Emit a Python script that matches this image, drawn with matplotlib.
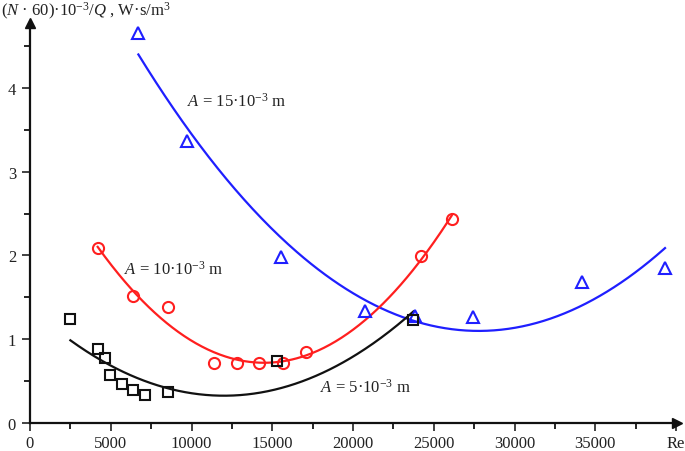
import numpy as np
import matplotlib
matplotlib.use("Agg")
import matplotlib.pyplot as plt
from matplotlib.ticker import MultipleLocator

# ---- data ----
sq_re = [2500, 4230, 4640, 4950, 5680, 6400, 7120, 8560, 15270, 23740]
sq_v = [1.24, 0.88, 0.77, 0.57, 0.46, 0.39, 0.34, 0.37, 0.74, 1.23]

ci_re = [4190, 6400, 8520, 11410, 12840, 14200, 15650, 17090, 24210, 26110]
ci_v = [2.09, 1.51, 1.38, 0.72, 0.72, 0.72, 0.72, 0.85, 1.99, 2.44]

tr_re = [6710, 9700, 15540, 20740, 23840, 27410, 34180, 39320]
tr_v = [4.65, 3.37, 1.98, 1.34, 1.28, 1.26, 1.68, 1.85]

x_ticks = [0, 5000, 10000, 15000, 20000, 25000, 30000, 35000, 40000]
x_labels = ["0", "5000", "10000", "15000", "20000", "25000", "30000", "35000", "Re"]
y_ticks = [0, 1, 2, 3, 4]
y_labels = ["0", "1", "2", "3", "4"]

plt.rcParams["font.family"] = ["Liberation Serif", "DejaVu Serif"]
plt.rcParams["mathtext.fontset"] = "custom"
plt.rcParams["mathtext.rm"] = "Liberation Serif"
plt.rcParams["mathtext.it"] = "Liberation Serif:italic"

W, H = 685, 452
X0, Y0 = 30, 424          # pixel of (0, 0)
XR, YT = 677, 24          # pixel of axes right / top
PX_PER_RE = 0.01615
PX_PER_V = 83.8

fig = plt.figure(figsize=(W / 100, H / 100), dpi=100)
ax = fig.add_axes([X0 / W, (H - Y0) / H, (XR - X0) / W, (Y0 - YT) / H])

BLUE = "#1f1fff"
RED = "#ff1f1f"
BLACK = "#111111"

def fit_curve(xs, ys):
    c = np.polyfit(xs, ys, 2)
    xx = np.linspace(min(xs), max(xs), 300)
    return xx, np.polyval(c, xx)

for xs, ys, col, mk, ms in [
    (tr_re, tr_v, BLUE, "^", 9),
    (ci_re, ci_v, RED, "o", 8),
    (sq_re, sq_v, BLACK, "s", 7),
]:
    xx, yy = fit_curve(xs, ys)
    ax.plot(xx, yy, color=col, lw=1.6, zorder=2)
    ax.plot(xs, ys, ls="none", marker=mk, ms=ms, mfc="none", mec=col, mew=1.5, zorder=3)

ax.set_xlim(0, (XR - X0) / PX_PER_RE)
ax.set_ylim(0, (Y0 - YT) / PX_PER_V)

ax.set_xticks(x_ticks)
ax.set_xticklabels(x_labels)
ax.set_yticks(y_ticks)
ax.set_yticklabels(y_labels)
ax.xaxis.set_minor_locator(MultipleLocator(2500))
ax.yaxis.set_minor_locator(MultipleLocator(0.5))
ax.tick_params(which="major", direction="out", length=6, width=1.2, labelsize=12, colors="#222222")
ax.tick_params(axis="x", which="major", pad=3)
ax.tick_params(axis="y", which="major", pad=4)
ax.tick_params(which="minor", direction="out", length=4, width=1.2)

for s in ["top", "right"]:
    ax.spines[s].set_visible(False)
for s in ["left", "bottom"]:
    ax.spines[s].set_linewidth(1.6)
    ax.spines[s].set_color("#111111")

ax.plot([1], [0], marker=">", ms=7, color="#111111", transform=ax.transAxes, clip_on=False)
ax.plot([0], [1], marker="^", ms=7, color="#111111", transform=ax.transAxes, clip_on=False)

txt_kw = dict(fontsize=12, color="#222222", va="center")
ax.text(9700, (Y0 - 102) / PX_PER_V, r"$A$ = 15·10$^{-3}$ m", **txt_kw)
ax.text(5850, (Y0 - 270) / PX_PER_V, r"$A$ = 10·10$^{-3}$ m", **txt_kw)
ax.text(17950, (Y0 - 388) / PX_PER_V, r"$A$ = 5·10$^{-3}$ m", **txt_kw)

fig.text(1 / W, 1 - 11 / H, r"($N$ · 60)·10$^{-3}$/$Q$ , W·s/m$^{3}$", fontsize=12,
         color="#222222", va="center", ha="left")

fig.savefig("out.png", dpi=100)
